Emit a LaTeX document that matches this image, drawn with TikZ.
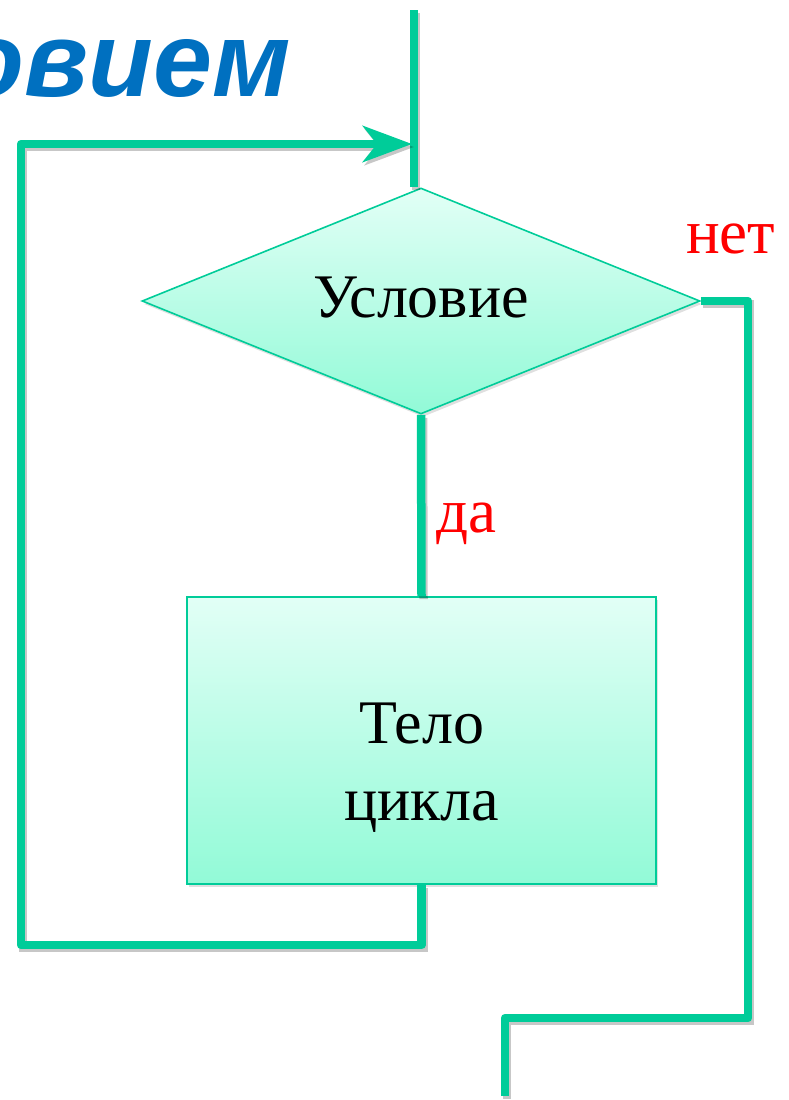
\documentclass[tikz,border=0pt]{standalone}
\usepackage{fontspec}
\setmainfont{Liberation Serif}
\newfontfamily\headfont{Liberation Sans}
\usetikzlibrary{arrows.meta,shapes.geometric,shadows}

\definecolor{flow}{RGB}{0,204,153}
\definecolor{mintTop}{RGB}{226,255,246}
\definecolor{mintBot}{RGB}{146,250,215}
\definecolor{headblue}{RGB}{0,112,192}
\definecolor{labelred}{RGB}{255,0,0}

\tikzset{
  wire/.style={draw=flow, line width=8.5pt, line join=round,
    preaction={draw=black, opacity=0.22, line width=8.5pt,
      transform canvas={shift={(2pt,-3pt)}}}},
  flowshape/.style={draw=flow, line width=1.6pt, top color=mintTop,
    bottom color=mintBot, inner sep=0pt,
    drop shadow={shadow xshift=2pt, shadow yshift=-3pt, opacity=0.25}},
  condbox/.style={flowshape, diamond, shape aspect=2.47,
    minimum width=558pt, minimum height=226pt},
  bodybox/.style={flowshape, rectangle, minimum width=469pt, minimum height=287pt,
    align=center},
  bigtext/.style={font=\fontsize{62}{77}\selectfont},
  answer/.style={font=\fontsize{63}{75}\selectfont, text=labelred, inner sep=0pt},
  tip/.style={-{Stealth[length=49pt, width=36pt, inset=14pt]}}
}

\begin{document}
\begin{tikzpicture}[x=1pt, y=-1pt]
  \useasboundingbox (0,0) rectangle (788,1100);

  % heading fragment
  \node[anchor=base east, inner sep=0pt, text=headblue,
        font=\headfont\bfseries\itshape\fontsize{106}{110}\selectfont]
        (head) at (291,96) {овием};

  % condition and loop body
  \node[condbox, bigtext] (cond) at (421,301) {\rule[-7pt]{0pt}{7pt}Условие};
  \node[bodybox, bigtext] (body) at (421.5,740.5) {\rule{0pt}{94pt}Тело\\цикла};

  % branch labels
  \node[answer, anchor=base west] (yes) at (436,532) {да};
  \node[answer, anchor=base west] (no) at (686,253) {нет};

  % corner points of the connectors
  \coordinate (entry) at (414,10);
  \coordinate (join) at (412,144);
  \coordinate (loopL) at (21,945);
  \coordinate (loopT) at (21,144);
  \coordinate (exitA) at (748,1018);
  \coordinate (exitB) at (505,1018);
  \coordinate (exitEnd) at (505,1096);

  % connectors
  \draw[wire] (entry) -- (entry |- cond.north);
  \draw[wire] (cond.south) -- (body.north);
  \draw[wire, tip] (body.south) |- (loopL) -- (loopT) -- (join);
  \draw[wire] (cond.east) -| (exitA) -- (exitB) -- (exitEnd);
\end{tikzpicture}
\end{document}
